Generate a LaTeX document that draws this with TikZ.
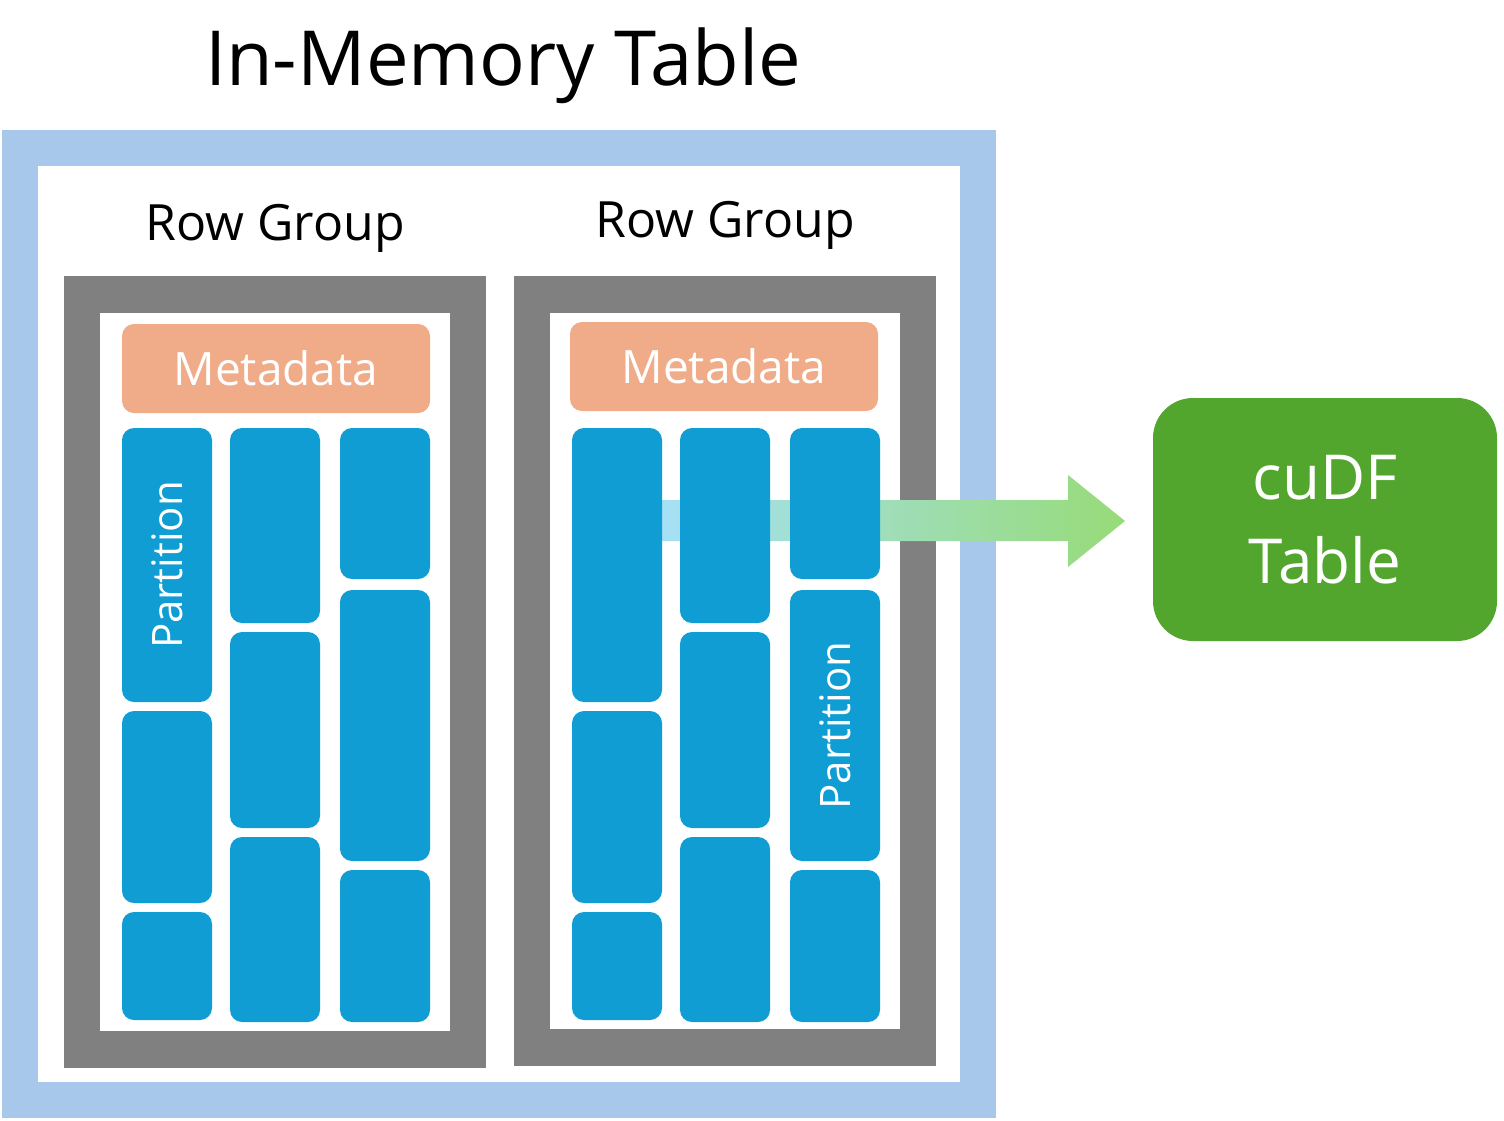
\documentclass[tikz,border=0pt]{standalone}
\usepackage{fontspec}
\setmainfont{Open Sans}
\definecolor{lb}{HTML}{A7C8EA}
\definecolor{gr}{HTML}{808080}
\definecolor{meta}{HTML}{F0AC88}
\definecolor{blk}{HTML}{0F9DD3}
\definecolor{cgreen}{HTML}{52A62E}
\definecolor{arrA}{HTML}{A6E0F6}
\definecolor{arrB}{HTML}{97DB78}
\newcommand{\blkbox}[5]{\node[blkst, minimum width={#4-#2}, minimum height={#5-#3}] (#1) at ({(#2+#4)/2},{(#3+#5)/2}) {};}
\begin{document}
\begin{tikzpicture}[x=1pt,y=-1pt,
  blkst/.style={fill=blk, rounded corners=12pt, inner sep=0pt},
  metast/.style={fill=meta, rounded corners=12pt, minimum width=308pt, minimum height=89pt, text=white, font=\fontsize{46}{50}\selectfont},
  rglab/.style={font=\fontsize{50}{56}\selectfont},
  ptext/.style={text=white, rotate=90, font=\fontsize{42}{48}\selectfont}]
\useasboundingbox (0,0) rectangle (1504,1120);
\fill[lb] (2,130) rectangle (996,1118);
\fill[white] (38,166) rectangle (960,1082);
\fill[gr] (64,276) rectangle (486,1068);
\fill[white] (100,313) rectangle (450,1031);
\fill[gr] (514,276) rectangle (936,1066);
\fill[white] (550,313) rectangle (900,1029);
\node[font=\fontsize{76}{84}\selectfont] (title) at (503,66) {In-Memory Table};
\node[rglab] (rg1) at (275,228) {Row Group};
\node[rglab] (rg2) at (725,225) {Row Group};
\node[metast] (m1) at (276,368.5) {Metadata};
\node[metast] (m2) at (724,366.5) {Metadata};
% arrow
\coordinate (as) at (662,520);
\shade[left color=arrA, right color=arrB, shading angle=90] (662,500) -- (995,500) -- (1068,500) -- (1068,475) -- (1125,521) -- (1068,567) -- (1068,541) -- (662,541) -- cycle;
% blocks RG1
\blkbox{a1}{122}{428}{212}{702}
\blkbox{a2}{122}{711}{212}{903}
\blkbox{a3}{122}{912}{212}{1020}
\blkbox{b1}{230}{428}{320}{623}
\blkbox{b2}{230}{632}{320}{828}
\blkbox{b3}{230}{837}{320}{1022}
\blkbox{c1}{340}{428}{430}{579}
\blkbox{c2}{340}{590}{430}{861}
\blkbox{c3}{340}{870}{430}{1022}
% blocks RG2
\blkbox{d1}{572}{428}{662}{702}
\blkbox{d2}{572}{711}{662}{903}
\blkbox{d3}{572}{912}{662}{1020}
\blkbox{e1}{680}{428}{770}{623}
\blkbox{e2}{680}{632}{770}{828}
\blkbox{e3}{680}{837}{770}{1022}
\blkbox{f1}{790}{428}{880}{579}
\blkbox{f2}{790}{590}{880}{861}
\blkbox{f3}{790}{870}{880}{1022}
\node[ptext] (p1) at (a1.center) {Partition};
\node[ptext] (p2) at (f2.center) {Partition};
\node[fill=cgreen, rounded corners=40pt, minimum width=344pt, minimum height=243pt, text=white, align=center, font=\fontsize{62}{84}\selectfont] (cudf) at (1325,519.5) {cuDF\\Table};
\end{tikzpicture}
\end{document}
